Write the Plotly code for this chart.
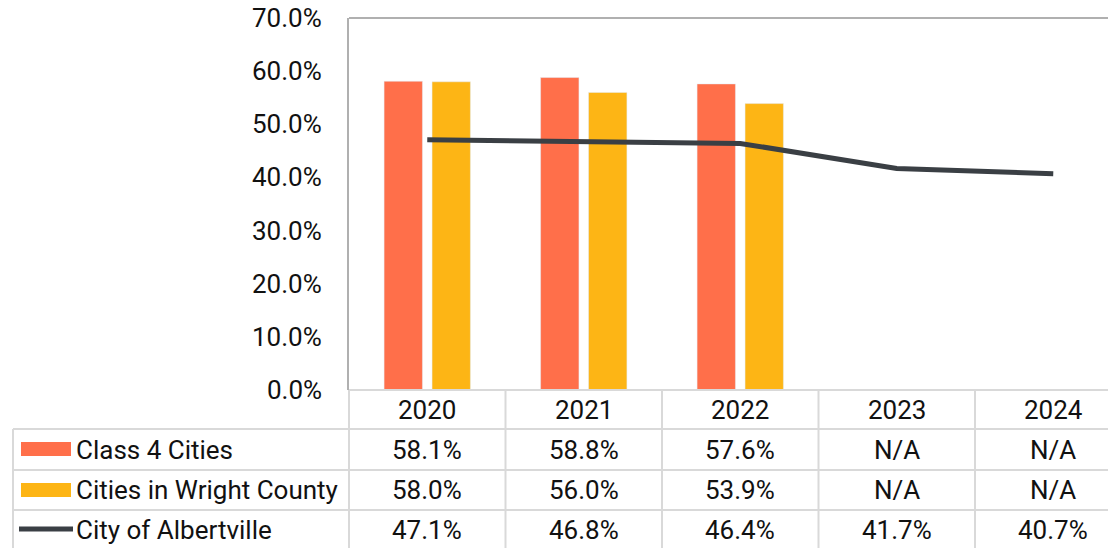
import plotly.graph_objects as go

years = ["2020", "2021", "2022", "2023", "2024"]
class4 = [0.581, 0.588, 0.576, None, None]
wright = [0.580, 0.560, 0.539, None, None]
albertville = [0.471, 0.468, 0.464, 0.417, 0.407]
series_names = ["Class 4 Cities", "Cities in Wright County", "City of Albertville"]
y_ticks = [0, 0.1, 0.2, 0.3, 0.4, 0.5, 0.6, 0.7]

C_ORANGE = "#FF6F4A"
C_YELLOW = "#FDB515"
C_LINE = "#3A3F44"
GRID = "#D9D9D9"
FONT = "Roboto"
TXT = "#111111"
FS = 26

OFF = 8  # page body margin
W, H = 1116 - OFF, 548 - OFF
PLOT_L, PLOT_T, PLOT_B = 349, 18, 390  # page pixel coordinates
ML, MT = PLOT_L - OFF, PLOT_T - OFF
MB = (548 - PLOT_B)
plot_h = PLOT_B - PLOT_T
plot_w = 1116 - PLOT_L
slot = 156.5


def py(px):
    return (PLOT_B - px) / plot_h


def pxx(px):
    return (px - PLOT_L) / plot_w


fig = go.Figure()
fig.add_trace(go.Bar(x=years, y=class4, name=series_names[0], marker_color=C_ORANGE))
fig.add_trace(go.Bar(x=years, y=wright, name=series_names[1], marker_color=C_YELLOW))
fig.add_trace(go.Scatter(x=years, y=albertville, name=series_names[2], mode="lines",
                         line=dict(color=C_LINE, width=5)))

shapes = []
annotations = []
# top border of plot
shapes.append(dict(type="line", xref="paper", yref="paper", x0=0, x1=1.01, y0=1, y1=1,
                   line=dict(color="#B0B0B0", width=2)))
bottom = py(560)
# table vertical lines between columns
for i in range(len(years)):
    shapes.append(dict(type="line", xref="x", yref="paper", x0=i + 0.5, x1=i + 0.5,
                       y0=0, y1=bottom, line=dict(color=GRID, width=2)))
shapes.append(dict(type="line", xref="paper", yref="paper", x0=0, x1=0,
                   y0=0, y1=bottom, line=dict(color=GRID, width=2)))
# table left border
shapes.append(dict(type="line", xref="paper", yref="paper", x0=pxx(13), x1=pxx(13),
                   y0=py(429), y1=bottom, line=dict(color=GRID, width=2)))
# horizontal row lines
for ypx in [429, 470, 510]:
    shapes.append(dict(type="line", xref="paper", yref="paper", x0=pxx(13), x1=1.01,
                       y0=py(ypx), y1=py(ypx), line=dict(color=GRID, width=2)))
# bottom axis line of plot
shapes.append(dict(type="line", xref="paper", yref="paper", x0=0, x1=1.01,
                   y0=0, y1=0, line=dict(color=GRID, width=2)))

row_centers = [450, 490, 530]
# legend keys
shapes.append(dict(type="rect", xref="paper", yref="paper", x0=pxx(21), x1=pxx(71),
                   y0=py(456), y1=py(442), fillcolor=C_ORANGE, line=dict(width=0)))
shapes.append(dict(type="rect", xref="paper", yref="paper", x0=pxx(21), x1=pxx(71),
                   y0=py(497), y1=py(483), fillcolor=C_YELLOW, line=dict(width=0)))
shapes.append(dict(type="line", xref="paper", yref="paper", x0=pxx(19), x1=pxx(73),
                   y0=py(529), y1=py(529), line=dict(color=C_LINE, width=5)))

for name, rc in zip(series_names, row_centers):
    annotations.append(dict(text=name, xref="paper", yref="paper", x=pxx(74), y=py(rc),
                            xanchor="left", yanchor="middle", showarrow=False,
                            font=dict(family=FONT, size=FS, color=TXT)))

for vals, rc in zip([class4, wright, albertville], row_centers):
    for i, v in enumerate(vals):
        txt = "N/A" if v is None else f"{v*100:.1f}%"
        annotations.append(dict(text=txt, xref="x", yref="paper", x=i, y=py(rc),
                                xanchor="center", yanchor="middle", showarrow=False,
                                font=dict(family=FONT, size=FS, color=TXT)))

for i, yr in enumerate(years):
    annotations.append(dict(text=yr, xref="x", yref="paper", x=i, y=py(410),
                            xanchor="center", yanchor="middle", showarrow=False,
                            font=dict(family=FONT, size=FS, color=TXT)))

# y-axis tick labels (as annotations so the top one is not hidden at the div edge)
for t in y_ticks:
    annotations.append(dict(text=f"{t*100:.1f}%", xref="paper", yref="y", x=pxx(324), y=t,
                            xanchor="right", yanchor="middle", showarrow=False,
                            font=dict(family=FONT, size=FS, color=TXT)))

fig.update_layout(
    width=W, height=H,
    margin=dict(l=ML, r=0, t=MT, b=MB, pad=0),
    paper_bgcolor="white", plot_bgcolor="white",
    barmode="group", bargap=0.387, bargroupgap=0.2,
    showlegend=False,
    font=dict(family=FONT, size=FS, color=TXT),
    shapes=shapes, annotations=annotations,
    xaxis=dict(type="category", range=[-0.5, -0.5 + plot_w / slot], showticklabels=False,
               showgrid=False, zeroline=False, showline=False, fixedrange=True),
    yaxis=dict(range=[0, 0.70005], tickvals=y_ticks, showticklabels=False, showgrid=False,
               zeroline=False, showline=True, linecolor="#B0B0B0", linewidth=2, ticks=""),
)

fig.write_html("out.html")
